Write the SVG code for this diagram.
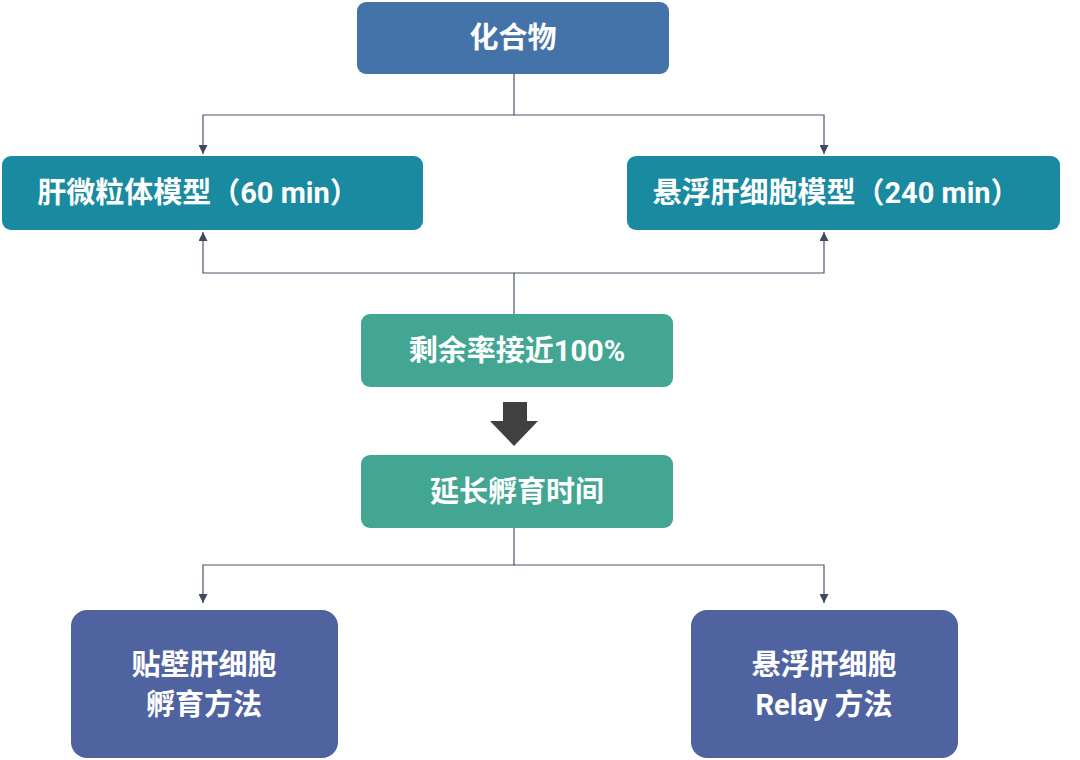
<svg xmlns="http://www.w3.org/2000/svg" width="1080" height="760" viewBox="0 0 1080 760">
<defs>
<style>
text{font-family:Roboto,"Noto Sans CJK SC",sans-serif;font-weight:bold;fill:#fff;font-size:29px;text-anchor:middle;dominant-baseline:central}
.ln{stroke:#4a5568;stroke-width:1.2;fill:none}
</style>
<marker id="ah" viewBox="0 0 10 10" refX="10" refY="5" markerWidth="9" markerHeight="9" markerUnits="userSpaceOnUse" orient="auto"><path d="M0,0L10,5L0,10z" fill="#3f4a5e"/></marker>
</defs>
<rect width="1080" height="760" fill="#fff"/>
<g id="connectors">
<path class="ln" d="M514,74V115H203V154" marker-end="url(#ah)"/>
<path class="ln" d="M514,115H824V154" marker-end="url(#ah)"/>
<path class="ln" d="M514,314V273H203V232" marker-end="url(#ah)"/>
<path class="ln" d="M514,273H824V232" marker-end="url(#ah)"/>
<path class="ln" d="M514,528V565H203V603" marker-end="url(#ah)"/>
<path class="ln" d="M514,565H824V603" marker-end="url(#ah)"/>
<path d="M503,402H527V421H538L514,446L490,421H503Z" fill="#404040"/>
</g>
<g id="n1"><rect x="357" y="2" width="312" height="72" rx="9" fill="#4473a9"/><text x="513" y="38">化合物</text></g>
<g id="n2"><rect x="2" y="156" width="421" height="74" rx="9" fill="#1a8aa1"/><text x="198" y="193">肝微粒体模型（60 min）</text></g>
<g id="n3"><rect x="627" y="156" width="433" height="74" rx="9" fill="#1a8aa1"/><text x="836" y="193">悬浮肝细胞模型（240 min）</text></g>
<g id="n4"><rect x="361" y="314" width="312" height="73" rx="9" fill="#42a692"/><text x="517" y="351">剩余率接近100%</text></g>
<g id="n5"><rect x="361" y="455" width="312" height="73" rx="9" fill="#42a692"/><text x="517" y="492">延长孵育时间</text></g>
<g id="n6"><rect x="71" y="610" width="267" height="148" rx="16" fill="#5063a1"/><text x="204" y="665">贴壁肝细胞</text><text x="204" y="705">孵育方法</text></g>
<g id="n7"><rect x="691" y="610" width="267" height="148" rx="16" fill="#5063a1"/><text x="824" y="665">悬浮肝细胞</text><text x="824" y="705">Relay 方法</text></g>
</svg>
